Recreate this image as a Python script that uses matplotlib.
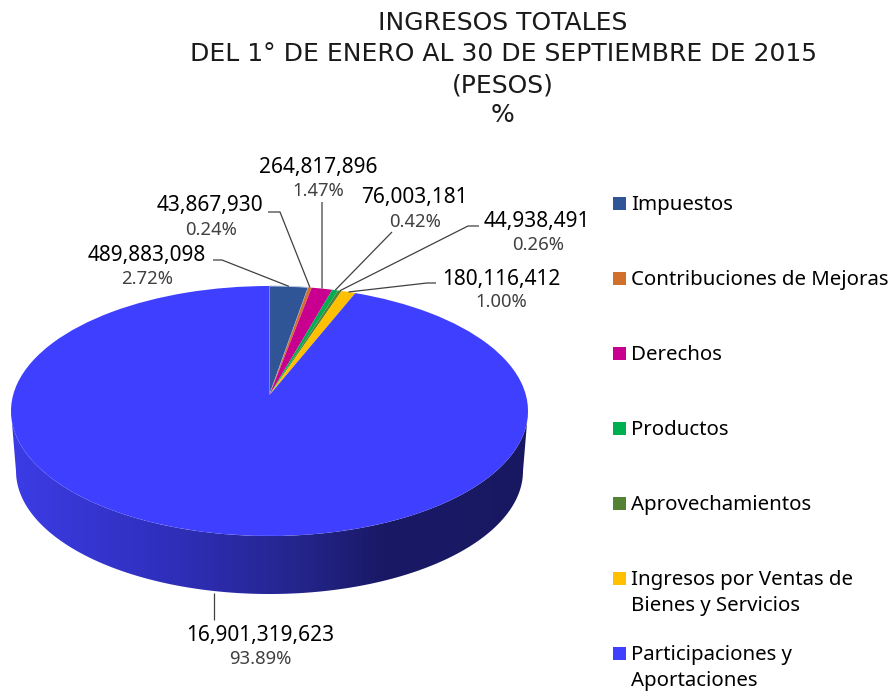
import numpy as np
import matplotlib
matplotlib.use("Agg")
import matplotlib.pyplot as plt
from matplotlib.colors import LinearSegmentedColormap
from matplotlib.patches import Polygon, Rectangle
from matplotlib.path import Path
from matplotlib.transforms import Affine2D, Transform

# data
categories = ["Impuestos", "Contribuciones de Mejoras", "Derechos", "Productos",
              "Aprovechamientos", "Ingresos por Ventas de\nBienes y Servicios",
              "Participaciones y\nAportaciones"]
values = [489883098, 43867930, 264817896, 76003181, 44938491, 180116412, 16901319623]
value_labels = ["489,883,098", "43,867,930", "264,817,896", "76,003,181",
                "44,938,491", "180,116,412", "16,901,319,623"]
pct_labels = ["2.72%", "0.24%", "1.47%", "0.42%", "0.26%", "1.00%", "93.89%"]
colors = ["#2F5597", "#D0702B", "#C9008F", "#00B050", "#548235", "#FFC000", "#3F3FFF"]
title_lines = ["INGRESOS TOTALES", "DEL 1° DE ENERO AL 30 DE SEPTIEMBRE DE 2015", "(PESOS)", "%"]

# layout, in pixels of the picture
CX, CY, RX, RY = 269.5, 411, 258.5, 125
TILT = 0.128
BOTTOM_CY, BOTTOM_RX, BOTTOM_RY = 471, 253.5, 123
label_pos = [(147, 255), (210, 205), (318, 167), (414, 198), (537, 221), (501, 279), (260, 635)]
pct_pos = [(147, 279), (211, 230), (318, 191), (415, 222), (538, 245), (501, 302), (260, 659)]
elbows = [[(213, 260), (222, 260)], [(268, 212), (280, 212)], [(322, 202)], [(392, 232)],
          [(479, 226), (468, 226)], [(436, 283), (427, 283)], [(214, 620)]]
swatch_y = [203.5, 278.5, 353.5, 428.5, 503.5, 578.5, 653.5]
legend_y = [205, 280, 355, 430, 505, 593, 668]
title_y = [23, 54, 85, 115]

plt.rcParams["font.family"] = ["Noto Sans", "DejaVu Sans"]


class Tilt(Transform):
    # perspective of the pie: the centre sits above the middle of the ellipse
    input_dims = 2
    output_dims = 2

    def transform_non_affine(self, xy):
        xy = np.asarray(xy, dtype=float)
        w = 1 + TILT * xy[:, 1]
        return np.column_stack([xy[:, 0] * np.sqrt(1 - TILT ** 2) / w, (xy[:, 1] + TILT) / w])

    def transform_path_non_affine(self, path):
        return Path(self.transform_non_affine(path.vertices), path.codes)


fig = plt.figure(figsize=(8.92, 6.92), dpi=100)
ax = fig.add_axes([0, 0, 1, 1])

to_pixels = Affine2D().scale(RX, -RY).translate(CX, CY)
wedges, _ = ax.pie(values, colors=colors, startangle=90, counterclock=False,
                   wedgeprops={"linewidth": 0})
for w in wedges:
    w.set_transform(Tilt() + to_pixels + ax.transData)
    w.set_zorder(3)
wedges[0].set_edgecolor("#B9C6E4")
wedges[0].set_linewidth(0.7)

# side wall with the dark gradient
t = np.linspace(np.pi, 2 * np.pi, 200)
upper = np.column_stack([CX + RX * np.cos(t), CY - RY * np.sin(t)])
lower = np.column_stack([CX + BOTTOM_RX * np.cos(t), BOTTOM_CY - BOTTOM_RY * np.sin(t)])
wall = Polygon(np.vstack([upper, lower[::-1]]), closed=True, transform=ax.transData)
wall_cmap = LinearSegmentedColormap.from_list(
    "wall", [(0, "#3C3CE6"), (0.3, "#2F2FBC"), (0.55, "#25258E"), (0.72, "#191966"), (1, "#181862")])
im = ax.imshow(np.linspace(0, 1, 256).reshape(1, -1), cmap=wall_cmap, aspect="auto",
               extent=(CX - RX, CX + RX, 600, 400), zorder=1)
im.set_clip_path(wall)

# leader lines start at the middle of each slice
fractions = np.array(values) / np.sum(values)
mids = np.pi / 2 - 2 * np.pi * (np.cumsum(fractions) - fractions / 2)
for i, mid in enumerate(mids):
    u, v = np.cos(mid), np.sin(mid)
    w = 1 + TILT * v
    ax_x = CX + RX * u * np.sqrt(1 - TILT ** 2) / w
    ax_y = CY - RY * (v + TILT) / w
    if i == len(values) - 1:
        ax_x = elbows[i][0][0]
        ax_y = 593
    xs = [p[0] for p in elbows[i]] + [ax_x]
    ys = [p[1] for p in elbows[i]] + [ax_y]
    ax.plot(xs, ys, color="#404040", lw=0.9, zorder=4, solid_capstyle="butt")

for i in range(len(values)):
    ax.text(label_pos[i][0], label_pos[i][1], value_labels[i], fontsize=15, color="black",
            ha="center", va="center", zorder=5)
    ax.text(pct_pos[i][0], pct_pos[i][1], pct_labels[i], fontsize=13.3, color="#404040",
            ha="center", va="center", zorder=5)

# legend
for sy, y, name, c in zip(swatch_y, legend_y, categories, colors):
    ax.add_patch(Rectangle((613, sy - 6.5), 12.5, 13, facecolor=c, edgecolor="none", zorder=5))
    ax.text(631, y, name, fontsize=14.7, color="black", ha="left", va="center",
            linespacing=1.4, zorder=5)

for y, line in zip(title_y, title_lines):
    ax.text(503, y, line, family="DejaVu Sans", fontsize=18, color="#1a1a1a",
            ha="center", va="center", zorder=5)

ax.set_aspect("auto")
ax.set_xlim(0, 892)
ax.set_ylim(692, 0)
ax.axis("off")

fig.savefig("out.png", dpi=100)
